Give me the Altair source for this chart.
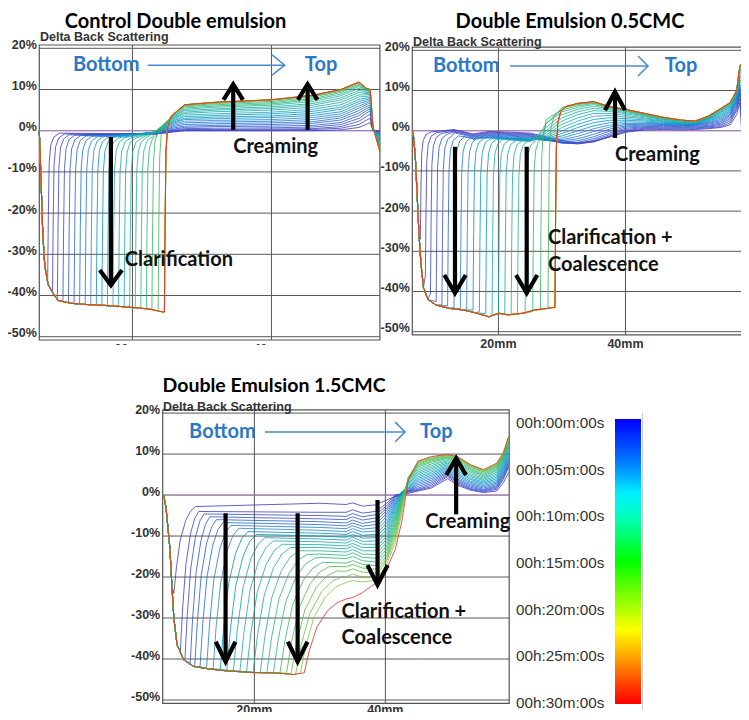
import altair as alt
import pandas as pd

# ============ DATA ============
Y_TICKS = [20, 10, 0, -10, -20, -30, -40, -50]
Y_TICK_LABELS = ["20%", "10%", "0%", "-10%", "-20%", "-30%", "-40%", "-50%"]
X_TICKS = [20, 40]
X_TICK_LABELS = ["20mm", "40mm"]

LEGEND_T = [0, 5, 10, 15, 20, 25, 30]
LEGEND_LABELS = ["00h:00m:00s", "00h:05m:00s", "00h:10m:00s", "00h:15m:00s",
                 "00h:20m:00s", "00h:25m:00s", "00h:30m:00s"]

TITLES = ["Control Double emulsion", "Double Emulsion 0.5CMC", "Double Emulsion 1.5CMC"]

# ---- Panel 1 : Control double emulsion ----
P1_TIMES = [0.5, 1.2, 1.9, 2.6, 3.3, 4.0, 4.7, 5.4, 6.1, 6.8, 7.5, 8.2, 8.9, 9.6,
            10.3, 11.0, 11.7, 12.4, 13.1, 13.8, 14.5, 15.2]
P1_LATE_TIMES = [18, 21, 24, 27, 30]
P1_LEFT_X = [6.6, 6.85, 7.1, 7.4, 7.9, 8.6, 9.3, 11.2, 13.5, 16.0, 18.5, 20.8, 22.5, 24.4]
P1_LEFT_Y = [0, -12, -25, -33, -37.5, -39.5, -41.2, -41.9, -42.2, -42.4, -42.7, -43.0, -43.3, -44.0]
P1_FRONT = [7.8, 8.5, 9.2, 10.0, 10.8, 11.6, 12.4, 13.2, 14.0, 14.8, 15.6, 16.4, 17.2,
            18.0, 18.8, 19.6, 20.4, 21.2, 22.0, 22.8, 23.7, 24.6]
P1_FLOOR = [-37, -39.2, -41, -41.5, -41.8, -42, -42.1, -42.2, -42.3, -42.4, -42.5, -42.6,
            -42.7, -42.8, -42.9, -43, -43.1, -43.2, -43.3, -43.5, -43.8, -44]
P1_TOP = [-0.6, -0.8, -1.0, -1.1, -1.2, -1.3, -1.4, -1.5, -1.5, -1.6, -1.6, -1.7, -1.7,
          -1.8, -1.8, -1.8, -1.6, -1.4, -0.8, 1.0, 3.0, 4.6]
P1_CREAM_X = [23.4, 26, 27.5, 32, 40, 46, 50, 52.6, 53.6, 54.2, 54.6, 55.6]
P1_CREAM = [
    [-0.8, -0.3, 0.0, 0.0, 0.0, 0.0, 0.2, 0.8, 1.5, 2.0, 0.0, 0.0],
    [-0.8, -0.2, 0.1, 0.1, 0.2, 0.3, 0.6, 1.5, 2.5, 3.0, 0.0, 0.0],
    [-0.8, 0.0, 0.3, 0.3, 0.4, 0.5, 1.0, 2.3, 3.4, 4.0, 0.0, -0.2],
    [-0.7, 0.2, 0.5, 0.6, 0.7, 0.9, 1.5, 3.0, 4.2, 4.8, 0.0, -0.3],
    [-0.6, 0.4, 0.8, 1.0, 1.1, 1.3, 2.0, 3.7, 4.8, 5.3, 0.0, -0.5],
    [-0.5, 0.7, 1.1, 1.3, 1.5, 1.8, 2.6, 4.3, 5.3, 5.8, 0.2, -0.7],
    [-0.5, 1.0, 1.5, 1.7, 1.9, 2.2, 3.1, 4.9, 5.8, 6.2, 0.2, -0.9],
    [-0.4, 1.3, 1.9, 2.1, 2.3, 2.7, 3.6, 5.5, 6.3, 6.7, 0.3, -1.1],
    [-0.4, 1.6, 2.3, 2.5, 2.7, 3.2, 4.1, 6.0, 6.7, 7.1, 0.3, -1.3],
    [-0.3, 1.9, 2.7, 2.9, 3.2, 3.7, 4.6, 6.6, 7.1, 7.5, 0.4, -1.6],
    [-0.3, 2.1, 3.0, 3.3, 3.6, 4.2, 5.2, 7.1, 7.5, 7.8, 0.4, -1.9],
    [-0.3, 2.4, 3.4, 3.7, 4.1, 4.7, 5.7, 7.6, 7.9, 8.1, 0.5, -2.2],
    [-0.2, 2.6, 3.8, 4.1, 4.5, 5.2, 6.3, 8.2, 8.3, 8.5, 0.5, -2.5],
    [-0.2, 2.9, 4.2, 4.6, 5.0, 5.7, 6.9, 8.7, 8.7, 8.8, 0.6, -2.8],
    [-0.2, 3.1, 4.5, 5.0, 5.4, 6.2, 7.5, 9.3, 9.0, 9.1, 0.6, -3.1],
    [-0.1, 3.3, 4.9, 5.3, 5.8, 6.6, 8.0, 9.8, 9.3, 9.3, 0.7, -3.4],
    [-0.1, 3.5, 5.2, 5.7, 6.2, 7.1, 8.5, 10.3, 9.6, 9.5, 0.7, -3.7],
    [0.0, 3.7, 5.5, 6.0, 6.5, 7.5, 8.9, 10.7, 9.8, 9.7, 0.8, -4.0],
    [None, 3.9, 5.8, 6.3, 6.8, 7.8, 9.3, 11.0, 10.0, 9.8, 0.8, -4.3],
    [None, 4.0, 6.0, 6.6, 7.1, 8.2, 9.6, 11.3, 10.1, 9.9, 0.9, -4.6],
    [None, 4.1, 6.2, 6.8, 7.4, 8.4, 9.8, 11.6, 10.2, 10.0, 0.9, -4.8],
    [None, None, 6.3, 6.9, 7.5, 8.6, 10.0, 11.8, 10.3, 10.0, 1.0, -5.0],
]

# ---- Panel 2 : Double emulsion 0.5CMC ----
P2_TIMES = [0.5, 1.2, 1.9, 2.6, 3.3, 4.0, 4.7, 5.4, 6.1, 6.8, 7.5, 8.2, 8.9, 9.6,
            10.3, 11.0, 11.7, 12.4, 13.1, 13.8, 14.5, 15.2]
P2_LATE_TIMES = [18, 21, 24, 27, 30]
P2_LEFT_X = [6.45, 6.6, 6.9, 7.2, 7.5, 7.8, 8.2, 8.9, 10.2, 12.3, 14.5, 16.4, 18.5, 20.0,
             21.5, 23.9, 25.7, 27.7, 28.5]
P2_LEFT_Y = [0, -1, -6, -16, -26, -33, -39, -42, -43.4, -44.2, -44.6, -45.3, -46.3, -45.4,
             -45.8, -45.4, -44.6, -44.2, -44.0]
P2_FRONT = [7.7, 8.5, 9.3, 10.2, 11.1, 12.0, 13.0, 14.0, 15.0, 16.0, 17.0, 18.0, 19.0,
            20.0, 21.0, 22.0, 23.0, 24.2, 25.4, 26.6, 27.8, 28.9]
P2_FLOOR = [-27, -36, -40.5, -42.5, -43.3, -43.6, -44.0, -44.2, -44.4, -44.6, -45.0, -45.5,
            -46.0, -45.6, -45.6, -45.8, -45.6, -45.5, -45.0, -44.6, -44.3, -44.0]
P2_TOP = [-0.3, -0.5, -0.7, -0.9, -1.1, -1.3, -1.5, -1.7, -1.8, -1.9, -2.0, -2.1, -2.2,
          -2.3, -2.4, -2.5, -2.5, -2.5, -1.5, 3.0, 4.5, 6.0]
P2_CREAM_X = [13, 16, 18.5, 21, 25, 27.5, 30, 32.5, 35, 37.5, 40, 43, 46, 49, 51, 53, 55,
              56.5, 57.5, 58.0, 58.4]
P2_CREAM = [
    [0.3, -0.8, -0.2, -0.3, -0.6, -1.5, -2.5, -3.0, -2.6, -1.6, -0.4, 0.2, 0.3, 0.2, 0.3, 0.5, 0.8, 1.5, 4.0, 7.0, -3.0],
    [0.1, -1.0, -0.4, -0.5, -0.8, -1.8, -2.8, -3.2, -2.8, -1.5, -0.2, 0.4, 0.5, 0.4, 0.5, 0.7, 1.0, 2.0, 5.0, 8.0, 0.0],
    [-0.1, -1.2, -0.6, -0.7, -1.0, -2.0, -3.0, -3.3, -2.7, -1.3, 0.0, 0.6, 0.7, 0.6, 0.7, 0.9, 1.3, 2.5, 5.5, 9.0, 3.0],
    [-0.3, -1.4, -0.8, -0.9, -1.2, -2.2, -3.1, -3.2, -2.4, -1.0, 0.3, 0.8, 0.9, 0.8, 0.9, 1.1, 1.6, 3.0, 6.0, 9.5, 5.0],
    [-0.5, -1.6, -1.0, -1.1, -1.4, -2.3, -3.0, -2.9, -2.0, -0.6, 0.6, 1.0, 1.1, 1.0, 1.1, 1.3, 1.9, 3.4, 6.5, 10.0, 7.0],
    [-0.7, -1.8, -1.2, -1.3, -1.6, -2.4, -2.8, -2.5, -1.5, -0.1, 0.9, 1.2, 1.3, 1.2, 1.3, 1.6, 2.2, 3.8, 7.0, 10.5, 8.5],
    [-0.9, -2.0, -1.4, -1.5, -1.8, -2.4, -2.5, -2.0, -0.9, 0.4, 1.2, 1.4, 1.5, 1.3, 1.4, 1.8, 2.5, 4.1, 7.3, 11.0, 9.5],
    [-1.1, -2.2, -1.6, -1.7, -2.0, -2.4, -2.2, -1.4, -0.2, 0.9, 1.5, 1.6, 1.6, 1.4, 1.5, 2.0, 2.8, 4.4, 7.6, 11.5, 10.5],
    [-1.2, -2.3, -1.7, -1.8, -2.1, -2.3, -1.8, -0.7, 0.5, 1.4, 1.8, 1.8, 1.8, 1.5, 1.6, 2.2, 3.1, 4.7, 7.9, 12.0, 11.5],
    [-1.3, -2.4, -1.8, -1.9, -2.2, -2.2, -1.3, 0.0, 1.2, 2.0, 2.2, 2.1, 1.9, 1.6, 1.7, 2.4, 3.4, 5.0, 8.1, 12.5, 12.5],
    [None, -2.5, -1.9, -2.0, -2.3, -2.0, -0.7, 0.8, 2.0, 2.6, 2.6, 2.4, 2.1, 1.7, 1.8, 2.6, 3.7, 5.3, 8.3, 13.0, 13.2],
    [None, None, -2.0, -2.1, -2.4, -1.8, 0.0, 1.6, 2.8, 3.2, 3.0, 2.7, 2.3, 1.8, 1.9, 2.8, 4.0, 5.6, 8.5, 13.5, 13.8],
    [None, None, -2.1, -2.2, -2.5, -1.5, 0.8, 2.4, 3.6, 3.8, 3.4, 3.0, 2.4, 1.9, 2.0, 2.9, 4.3, 5.9, 8.7, 14.0, 14.4],
    [None, None, None, -2.3, -2.6, -1.1, 1.6, 3.2, 4.3, 4.3, 3.8, 3.2, 2.6, 2.0, 2.1, 3.0, 4.5, 6.1, 8.9, 14.4, 15.0],
    [None, None, None, -2.4, -2.6, -0.6, 2.4, 4.0, 5.0, 4.8, 4.2, 3.5, 2.8, 2.1, 2.2, 3.1, 4.7, 6.3, 9.1, 14.8, 15.5],
    [None, None, None, None, -2.6, 0.0, 3.2, 4.7, 5.6, 5.2, 4.5, 3.7, 2.9, 2.3, 2.2, 3.2, 4.9, 6.5, 9.3, 15.1, 15.9],
    [None, None, None, None, -2.5, 0.8, 4.0, 5.3, 6.1, 5.5, 4.8, 3.9, 3.0, 2.4, 2.3, 3.3, 5.1, 6.7, 9.5, 15.4, 16.2],
    [None, None, None, None, None, 1.8, 4.7, 5.8, 6.5, 5.7, 5.0, 4.0, 3.1, 2.5, 2.3, 3.4, 5.2, 6.8, 9.7, 15.6, 16.5],
    [None, None, None, None, None, 2.8, 5.2, 6.2, 6.8, 5.8, 5.1, 4.1, 3.2, 2.5, 2.4, 3.5, 5.3, 6.9, 9.8, 15.8, 16.7],
    [None, None, None, None, None, None, 5.6, 6.5, 7.0, 5.9, 5.2, 4.2, 3.2, 2.6, 2.4, 3.5, 5.4, 6.9, 9.9, 15.9, 16.8],
    [None, None, None, None, None, None, 5.8, 6.7, 7.1, 6.0, 5.3, 4.3, 3.3, 2.6, 2.4, 3.6, 5.5, 7.0, 10.0, 16.0, 16.9],
    [None, None, None, None, None, None, None, 6.8, 7.2, 6.0, 5.3, 4.3, 3.3, 2.6, 2.4, 3.6, 5.5, 7.0, 10.0, 16.0, 17.0],
]

# ---- Panel 3 : Double emulsion 1.5CMC ----
P3_TIMES = [0.5, 1.3, 2.1, 2.9, 3.7, 4.5, 5.3, 6.1, 6.9, 7.7, 8.5, 9.3, 10.1, 10.9, 11.7,
            12.5, 13.3, 14.1, 15.0, 16.0, 17.0, 18.5, 30]
P3_LEFT_X = [6.0, 6.15, 6.5, 6.8, 7.1, 7.4, 7.7, 8.2, 9.2, 10.7, 13.0, 15.8, 19.8, 23.4, 25.9, 27.5]
P3_LEFT_Y = [0, 0, -3, -8, -13, -22, -30, -36.6, -40.2, -41.8, -42.4, -42.9, -43.3, -43.4, -43.8, -43.4]
P3_DEPART = [7.7, 8.7, 9.4, 10.2, 10.9, 11.7, 12.7, 13.7, 14.8, 15.8, 16.8, 17.8, 18.8, 19.8,
             20.9, 21.9, 22.9, 23.9, 24.9, 25.6, 26.3, 27.0, 27.6]
P3_FLOOR = [-24, -38, -40.0, -41.0, -41.5, -41.9, -42.1, -42.3, -42.5, -42.7, -42.8, -42.9,
            -43.1, -43.2, -43.3, -43.3, -43.4, -43.4, -43.5, -43.6, -43.6, -43.5, -43.4]
P3_KNEE_X = [11.0, 11.5, 12.3, 13.2, 14.2, 15.2, 16.4, 17.6, 19.0, 20.3, 21.6, 22.9, 24.2,
             25.5, 26.8, 28.0, 29.2, 30.4, 31.5, 32.6, 33.5, 34.0, 34.1]
P3_KNEE_Y = [-2.8, -4.0, -4.6, -5.3, -6.0, -6.7, -7.4, -8.1, -8.9, -9.6, -10.4, -11.2, -12.0,
             -12.8, -13.6, -14.5, -15.4, -16.4, -17.4, -18.5, -19.8, -21.3, -25.3]
P3_MID_X = [30, 34, 35, 36.5, 38.5]
P3_MID = [
    [-2.0, -2.3, -1.9, -2.7, -2.4], [-4.2, -4.2, -3.6, -4.4, -4.0], [-5.0, -5.2, -4.5, -5.3, -4.8],
    [-5.8, -6.0, -5.3, -6.1, -5.6], [-6.5, -6.8, -6.1, -6.9, -6.4], [-7.2, -7.5, -6.8, -7.6, -7.2],
    [-7.9, -8.2, -7.5, -8.3, -8.0], [-8.6, -8.9, -8.2, -9.0, -8.8], [-9.3, -9.6, -8.9, -9.8, -9.6],
    [-10.0, -10.3, -9.6, -10.5, -10.4], [-10.7, -11.0, -10.3, -11.3, -11.2],
    [-11.4, -11.7, -11.0, -12.0, -12.0], [-12.1, -12.4, -11.8, -12.8, -12.8],
    [-12.8, -13.1, -12.5, -13.6, -13.6], [-13.6, -13.9, -13.3, -14.4, -14.5],
    [-14.4, -14.7, -14.1, -15.2, -15.4], [-15.2, -15.5, -15.0, -16.0, -16.3],
    [None, -16.6, -16.0, -16.9, -17.2], [None, -17.5, -16.9, -17.8, -18.1],
    [None, -18.6, -18.0, -18.8, -19.0], [None, -19.9, -19.3, -20.0, -19.9],
    [None, None, -20.9, -21.2, -20.8], [None, None, -25.0, -23.8, -21.5],
]
P3_CREAM_X = [40.2, 41.5, 42.5, 43.5, 45, 47, 49.5, 51, 53, 55, 57, 58, 58.8]
P3_CREAM = [
    [-1.2, -0.3, 0.0, 0.4, 1.0, 1.7, 4.0, 2.4, 1.2, 0.6, 1.0, 3.0, 5.5],
    [-2.0, 0.0, 0.3, 0.7, 1.2, 2.0, 4.5, 2.7, 1.4, 0.8, 1.4, 3.8, 6.8],
    [-2.6, -0.2, 0.4, 0.8, 1.4, 2.4, 4.8, 3.0, 1.6, 1.0, 1.7, 4.2, 7.2],
    [-3.2, -0.4, 0.5, 0.9, 1.7, 2.8, 5.1, 3.3, 1.9, 1.2, 2.0, 4.6, 7.6],
    [-3.8, -0.7, 0.6, 1.0, 2.1, 3.2, 5.4, 3.6, 2.2, 1.4, 2.3, 5.0, 8.0],
    [-4.5, -1.0, 0.7, 1.1, 2.5, 3.6, 5.7, 3.9, 2.5, 1.7, 2.6, 5.4, 8.4],
    [-5.2, -1.4, 0.8, 1.2, 2.9, 4.0, 6.0, 4.3, 2.8, 2.0, 2.9, 5.8, 8.8],
    [-6.0, -1.8, 0.8, 1.4, 3.3, 4.4, 6.3, 4.7, 3.1, 2.3, 3.2, 6.2, 9.2],
    [-6.8, -2.2, 0.8, 1.6, 3.7, 4.8, 6.6, 5.1, 3.4, 2.6, 3.6, 6.6, 9.6],
    [-7.6, -2.7, 0.7, 1.8, 4.1, 5.2, 6.9, 5.5, 3.8, 2.9, 4.0, 7.0, 10.0],
    [-8.4, -3.2, 0.6, 2.1, 4.5, 5.6, 7.2, 5.9, 4.1, 3.2, 4.4, 7.4, 10.4],
    [-9.2, -3.8, 0.4, 2.4, 4.9, 6.0, 7.5, 6.3, 4.5, 3.5, 4.8, 7.8, 10.8],
    [-10.0, -4.4, 0.2, 2.7, 5.3, 6.4, 7.8, 6.7, 4.8, 3.8, 5.2, 8.1, 11.2],
    [-10.8, -5.0, -0.1, 3.0, 5.7, 6.8, 8.1, 7.1, 5.2, 4.1, 5.6, 8.4, 11.6],
    [-11.6, -5.6, -0.4, 3.3, 6.1, 7.2, 8.4, 7.5, 5.6, 4.4, 6.0, 8.7, 12.0],
    [-12.4, -6.3, -0.8, 3.6, 6.5, 7.6, 8.7, 7.9, 5.9, 4.7, 6.3, 9.0, 12.3],
    [-13.2, -7.0, -1.2, 3.8, 6.9, 8.0, 9.0, 8.2, 6.2, 5.0, 6.6, 9.2, 12.6],
    [-14.0, -7.8, -1.7, 4.0, 7.2, 8.3, 9.2, 8.5, 6.5, 5.3, 6.9, 9.4, 12.9],
    [-14.8, -8.6, -2.2, 4.2, 7.5, 8.6, 9.4, 8.8, 6.8, 5.6, 7.1, 9.6, 13.2],
    [-15.5, -9.5, -2.8, 4.3, 7.8, 8.8, 9.6, 9.0, 7.0, 5.8, 7.3, 9.8, 13.5],
    [-16.0, -10.5, -3.5, 4.3, 8.0, 9.0, 9.7, 9.2, 7.2, 6.0, 7.5, 10.0, 13.8],
    [-17.0, -11.5, -4.5, 4.2, 8.2, 9.2, 9.8, 9.3, 7.3, 6.1, 7.6, 10.1, 14.0],
    [-18.0, -13.3, -6.5, 3.8, 8.3, 9.4, 9.9, 9.4, 7.4, 6.2, 7.8, 10.3, 14.3],
]

# front shapes (offsets in mm / fraction of the rise)
FRONT_DX = [0, 0.1, 0.22, 0.45, 0.9, 1.7]
FRONT_FY = [0, 0.45, 0.8, 0.92, 0.975, 1.0]
SLOPE_XF = [0.12, 0.3, 0.55, 0.78, 1.0]
SLOPE_YF = [0.3, 0.62, 0.84, 0.95, 1.0]

# annotations (data coordinates of each panel)
ANN = {
    "p1": {
        "blue_text": [("Bottom", 11.45, 15.9), ("Top", 44.8, 15.9)],
        "blue_lines": [[(22.2, 15.9), (41.9, 15.9)], [(40.1, 18.4), (41.9, 15.9), (40.1, 13.5)]],
        "arrows": [[(16.9, -1.5), (16.9, -37.5)], [(15.3, -33.8), (16.9, -37.5), (18.5, -33.8)],
                   [(34.5, 0.2), (34.5, 11.3)], [(33.1, 7.5), (34.5, 11.3), (35.9, 7.5)],
                   [(45.2, 0.2), (45.2, 11.3)], [(43.8, 7.5), (45.2, 11.3), (46.6, 7.5)]],
        "text": [("Creaming", 34.5, -4.0), ("Clarification", 18.9, -31.4)],
    },
    "p2": {
        "blue_text": [("Bottom", 9.70, 16.1), ("Top", 46.2, 16.1)],
        "blue_lines": [[(21.8, 16.1), (43.55, 16.1)], [(41.97, 18.6), (43.55, 16.1), (41.97, 13.6)]],
        "arrows": [[(13.16, -4.0), (13.16, -40.4)], [(11.48, -35.9), (13.16, -40.4), (14.85, -35.9)],
                   [(24.45, -4.0), (24.45, -40.4)], [(22.77, -35.9), (24.45, -40.4), (26.12, -35.9)],
                   [(38.35, -1.8), (38.35, 9.7)], [(36.78, 5.1), (38.35, 9.7), (39.93, 5.1)]],
        "text": [("Creaming", 38.35, -6.0), ("Clarification +", 27.8, -26.8), ("Coalescence", 27.8, -33.4)],
    },
    "p3": {
        "blue_text": [("Bottom", 10.03, 15.4), ("Top", 45.3, 15.4)],
        "blue_lines": [[(21.6, 15.4), (43.0, 15.4)], [(41.5, 17.8), (43.0, 15.4), (41.5, 13.0)]],
        "arrows": [[(15.6, -4.45), (15.6, -40.66)], [(14.1, -35.8), (15.6, -40.66), (17.1, -35.8)],
                   [(26.6, -4.45), (26.6, -40.66)], [(25.1, -35.8), (26.6, -40.66), (28.1, -35.8)],
                   [(38.8, -1.2), (38.8, -21.9)], [(37.25, -17.1), (38.8, -21.9), (40.35, -17.1)],
                   [(50.8, -4.7), (50.8, 9.0)], [(49.3, 4.9), (50.8, 9.0), (52.3, 4.9)]],
        "text": [("Creaming", 46.1, -6.5), ("Clarification +", 33.3, -28.5), ("Coalescence", 33.3, -34.9)],
    },
}
TITLE_POS = {"p1": (26.2, 26.4), "p2": (31.27, 27.0), "p3": (23.0, 26.7)}
SUBTITLE_POS = {"p1": (6.7, 22.7), "p2": (6.55, 22.1), "p3": (6.05, 21.6)}

# ============ layout (pixel geometry of the three plot frames) ============
GEOM = {
    "p1": {"xd": [6.6, 55.6], "xr": [31.3, 371.9], "yr": [328.7, 40.3], "xl_dy": 3.5},
    "p2": {"xd": [6.44, 58.5], "xr": [404.3, 735.0], "yr": [323.7, 42.3], "xl_dy": 3.5},
    "p3": {"xd": [6.0, 58.9], "xr": [154.7, 501.2], "yr": [692.0, 405.1], "xl_dy": 1.0},
}
Y_DOMAIN = [-50, 20]
FRAME_PAD = 0.8

LINE_T = [0, 3, 6, 9, 12, 15, 19, 22, 26, 30]
LINE_C = ["#4034c0", "#3550cc", "#2f84cc", "#26a6b4", "#30b28a", "#46b946",
          "#8cc446", "#cdbf34", "#e68a26", "#dc2c24"]
GRAD = [(0, "#0000ff"), (0.1, "#0050ff"), (0.18, "#0098ff"), (0.26, "#00f0ff"),
        (0.34, "#00ffc0"), (0.5, "#00ff00"), (0.66, "#a8ff00"), (0.74, "#ffff00"),
        (0.84, "#ffa000"), (0.93, "#ff4000"), (1.0, "#ff0000")]


# ============ build curve tables ============
def front_curves(times, late, lx, ly, fronts, floors, tops, cx, cvals):
    curves = []
    for k in range(len(times)):
        f, b, top = fronts[k], floors[k], tops[k]
        pts = [(x, y) for x, y in zip(lx, ly) if x < f - 0.05]
        rise = [(f + dx, b + (top - b) * fy) for dx, fy in zip(FRONT_DX, FRONT_FY)]
        last = rise[-1][0]
        tail = [(x, v) for x, v in zip(cx, cvals[k]) if v is not None and x > last + 0.05]
        curves.append((times[k], pts + rise + tail))
    for t in late:
        curves.append((t, curves[-1][1]))
    return curves


def slope_curves(times, lx, ly, dep, floors, kx, ky, mx, mvals, cx, cvals):
    curves = []
    for k in range(len(times)):
        a, b, rx, ry = dep[k], floors[k], kx[k], ky[k]
        pts = [(x, y) for x, y in zip(lx, ly) if x < a - 0.05] + [(a, b)]
        pts += [(a + (rx - a) * xf, b + (ry - b) * yf) for xf, yf in zip(SLOPE_XF, SLOPE_YF)]
        pts += [(x, v) for x, v in zip(mx + cx, mvals[k] + cvals[k])
                if v is not None and x > rx + 0.05]
        curves.append((times[k], pts))
    return curves


def curve_df(pid, curves):
    rows = []
    for n, (t, pts) in enumerate(curves):
        for i, (x, y) in enumerate(pts):
            rows.append({"c": f"{pid}_{n:02d}", "t": t, "i": i, "x": x, "y": y})
    return pd.DataFrame(rows)


CURVES = {
    "p1": curve_df("p1", front_curves(P1_TIMES, P1_LATE_TIMES, P1_LEFT_X, P1_LEFT_Y,
                                      P1_FRONT, P1_FLOOR, P1_TOP, P1_CREAM_X, P1_CREAM)),
    "p2": curve_df("p2", front_curves(P2_TIMES, P2_LATE_TIMES, P2_LEFT_X, P2_LEFT_Y,
                                      P2_FRONT, P2_FLOOR, P2_TOP, P2_CREAM_X, P2_CREAM)),
    "p3": curve_df("p3", slope_curves(P3_TIMES, P3_LEFT_X, P3_LEFT_Y, P3_DEPART, P3_FLOOR,
                                      P3_KNEE_X, P3_KNEE_Y, P3_MID_X, P3_MID, P3_CREAM_X, P3_CREAM)),
}


def poly_df(polys):
    rows = []
    for s, poly in enumerate(polys):
        for i, (x, y) in enumerate(poly):
            rows.append({"s": s, "i": i, "x": x, "y": y})
    return pd.DataFrame(rows)


# ============ chart ============
def sc(pid):
    g = GEOM[pid]
    return (alt.Scale(domain=g["xd"], range=g["xr"], nice=False, zero=False),
            alt.Scale(domain=Y_DOMAIN, range=g["yr"], nice=False, zero=False))


def XY(pid, xf="x", yf="y"):
    sx, sy = sc(pid)
    return dict(x=alt.X(f"{xf}:Q", scale=sx, axis=None), y=alt.Y(f"{yf}:Q", scale=sy, axis=None))


BOLD = dict(font="Liberation Sans", fontWeight="bold", color="#333333")
CAL = dict(font="Lato", fontWeight="bold")
BIG = 20
GRID = "#585858"

layers = []
for idx, pid in enumerate(["p1", "p2", "p3"]):
    g = GEOM[pid]
    x0, x1 = g["xd"]
    frame = pd.DataFrame({"x": [x0], "x2": [x1], "y": [Y_DOMAIN[0] - FRAME_PAD], "y2": [Y_DOMAIN[1] + FRAME_PAD]})
    layers.append(alt.Chart(frame).mark_rect(fillOpacity=0, stroke="#555555", strokeWidth=1.2).encode(
        **XY(pid), x2="x2:Q", y2="y2:Q"))
    hg = pd.DataFrame({"x": [x0] * len(Y_TICKS), "x2": [x1] * len(Y_TICKS), "y": Y_TICKS})
    layers.append(alt.Chart(hg).mark_rule(color=GRID, strokeWidth=1).encode(**XY(pid), x2="x2:Q"))
    vg = pd.DataFrame({"x": X_TICKS, "y": [Y_DOMAIN[0] - FRAME_PAD] * 2, "y2": [Y_DOMAIN[1] + FRAME_PAD] * 2})
    layers.append(alt.Chart(vg).mark_rule(color=GRID, strokeWidth=1).encode(**XY(pid), y2="y2:Q"))
    zl = pd.DataFrame({"x": [x0], "x2": [x1], "y": [0]})
    layers.append(alt.Chart(zl).mark_rule(color="#b784cc", strokeWidth=1).encode(**XY(pid), x2="x2:Q"))
    layers.append(alt.Chart(CURVES[pid]).mark_line(strokeWidth=0.9, opacity=0.9).encode(
        **XY(pid),
        color=alt.Color("t:Q", scale=alt.Scale(domain=LINE_T, range=LINE_C), legend=None),
        detail="c:N", order="i:Q"))
    yl = pd.DataFrame({"x": [x0] * len(Y_TICKS), "y": Y_TICKS, "label": Y_TICK_LABELS})
    layers.append(alt.Chart(yl).mark_text(align="right", baseline="middle", dx=-2.5, dy=-3.5,
                                          fontSize=12.5, **BOLD).encode(**XY(pid), text="label:N"))
    xl = pd.DataFrame({"x": X_TICKS, "y": [Y_DOMAIN[0] - FRAME_PAD] * 2, "label": X_TICK_LABELS})
    layers.append(alt.Chart(xl).mark_text(align="center", baseline="top", dy=g["xl_dy"],
                                          fontSize=12.5, **BOLD).encode(**XY(pid), text="label:N"))
    sx_, sy_ = SUBTITLE_POS[pid]
    st = pd.DataFrame({"x": [sx_], "y": [sy_], "label": ["Delta Back Scattering"]})
    layers.append(alt.Chart(st).mark_text(align="left", baseline="middle", fontSize=12.5, **BOLD).encode(
        **XY(pid), text="label:N"))
    tx, ty = TITLE_POS[pid]
    tt = pd.DataFrame({"x": [tx], "y": [ty], "label": [TITLES[idx]]})
    layers.append(alt.Chart(tt).mark_text(align="center", baseline="middle", fontSize=BIG if pid != "p3" else 19.5,
                                          color="black", **CAL).encode(**XY(pid), text="label:N"))
    a = ANN[pid]
    bt = pd.DataFrame([{"label": s, "x": x, "y": y} for s, x, y in a["blue_text"]])
    layers.append(alt.Chart(bt).mark_text(align="left", baseline="middle", fontSize=BIG,
                                          color="#2b78c8", **CAL).encode(**XY(pid), text="label:N"))
    layers.append(alt.Chart(poly_df(a["blue_lines"])).mark_line(color="#4a8ad0", strokeWidth=1.5).encode(
        **XY(pid), detail="s:N", order="i:Q"))
    layers.append(alt.Chart(poly_df(a["arrows"])).mark_line(color="black", strokeWidth=4.2,
                                                           strokeJoin="miter", strokeCap="butt").encode(
        **XY(pid), detail="s:N", order="i:Q"))
    at = pd.DataFrame([{"label": s, "x": x, "y": y} for s, x, y in a["text"]])
    layers.append(alt.Chart(at).mark_text(align="left", baseline="middle", fontSize=BIG,
                                          color="#111111", **CAL).encode(**XY(pid), text="label:N"))
    if pid == "p1":
        # bottom axis labels of the first panel are cropped in the original figure
        layers.append(alt.Chart(pd.DataFrame({"a": [0]})).mark_rect(color="white").encode(
            x=alt.value(0), x2=alt.value(380), y=alt.value(337), y2=alt.value(372)))

# colour bar legend
grad = alt.Gradient(gradient="linear", x1=0, x2=0, y1=0, y2=1,
                    stops=[alt.GradientStop(offset=o, color=c) for o, c in GRAD])
bar = pd.DataFrame({"t0": [LEGEND_T[0]], "t1": [LEGEND_T[-1]]})
layers.append(alt.Chart(bar).mark_rect(color=grad).encode(
    y=alt.Y("t0:Q", scale=alt.Scale(domain=[0, 30], range=[411, 696], nice=False, zero=False), axis=None),
    y2="t1:Q", x=alt.value(607), x2=alt.value(633)))
layers.append(alt.Chart(pd.DataFrame({"a": [0]})).mark_rule(color="#cccccc", strokeWidth=1).encode(
    x=alt.value(634.5), y=alt.value(405), y2=alt.value(702)))
leg = pd.DataFrame({"t": LEGEND_T, "label": LEGEND_LABELS})
layers.append(alt.Chart(leg).mark_text(align="left", baseline="middle", font="Liberation Sans",
                                       fontSize=15.3, color="#333333").encode(
    x=alt.value(508),
    y=alt.Y("t:Q", scale=alt.Scale(domain=[0, 30], range=[415.3, 694.7], nice=False, zero=False), axis=None),
    text="label:N"))

chart = alt.layer(*layers).resolve_scale(
    x="independent", y="independent", color="independent"
).properties(
    width=733, height=704, padding=0,
    autosize=alt.AutoSizeParams(type="none"), background="white"
).configure_view(strokeWidth=0)

chart.save("out.html", embed_options={"renderer": "svg", "actions": False})
